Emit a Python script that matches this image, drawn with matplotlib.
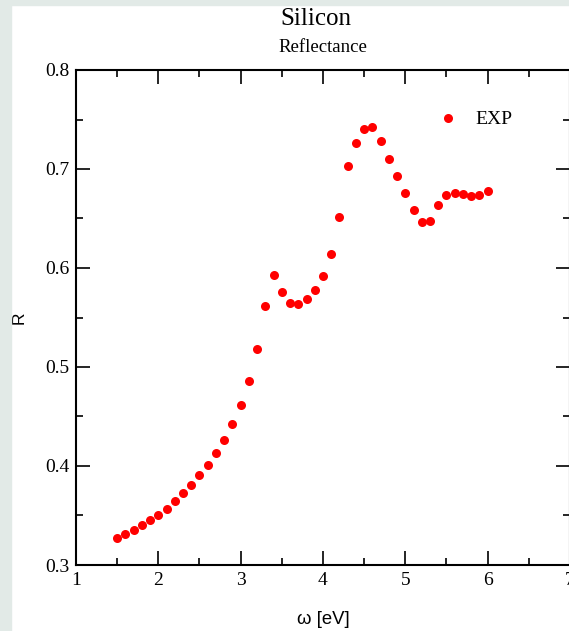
import matplotlib.pyplot as plt
from matplotlib.patches import Rectangle
from matplotlib.ticker import MultipleLocator

# measured reflectance of silicon
energy = [1.5, 1.6, 1.7, 1.8, 1.9, 2.0, 2.1, 2.2, 2.3, 2.4,
          2.5, 2.6, 2.7, 2.8, 2.9, 3.0, 3.1, 3.2, 3.3, 3.4,
          3.5, 3.6, 3.7, 3.8, 3.9, 4.0, 4.1, 4.2, 4.3, 4.4,
          4.5, 4.6, 4.7, 4.8, 4.9, 5.0, 5.1, 5.2, 5.3, 5.4,
          5.5, 5.6, 5.7, 5.8, 5.9, 6.0]
refl = [0.327, 0.331, 0.335, 0.340, 0.345, 0.351, 0.357, 0.365, 0.373, 0.381,
        0.391, 0.401, 0.413, 0.426, 0.442, 0.462, 0.486, 0.518, 0.562, 0.593,
        0.576, 0.565, 0.564, 0.569, 0.578, 0.592, 0.614, 0.652, 0.703, 0.726,
        0.740, 0.742, 0.728, 0.710, 0.693, 0.676, 0.659, 0.646, 0.647, 0.664,
        0.674, 0.676, 0.675, 0.673, 0.674, 0.678]

W, H = 569, 631
fig = plt.figure(figsize=(W / 100, H / 100), dpi=100, facecolor='white')

# pale frame strips along the left and top edges
band = '#e2eae7'
fig.patches.append(Rectangle((0, 0), 11 / W, 1, transform=fig.transFigure, color=band, zorder=0))
fig.patches.append(Rectangle((0, 1 - 5 / H), 1, 5 / H, transform=fig.transFigure, color=band, zorder=0))

ax = fig.add_axes([76 / W, 1 - 565 / H, 494 / W, 495 / H])
ax.plot(energy, refl, 'o', color='red', markersize=6.5, markeredgewidth=0, label='EXP')

ax.set_xlim(1, 7)
ax.set_ylim(0.3, 0.8)
ax.xaxis.set_major_locator(MultipleLocator(1))
ax.xaxis.set_minor_locator(MultipleLocator(0.5))
ax.yaxis.set_major_locator(MultipleLocator(0.1))
ax.yaxis.set_minor_locator(MultipleLocator(0.05))
ax.tick_params(which='both', direction='in', top=True, right=True, width=1.2, colors='black')
ax.tick_params(which='major', length=10, pad=5)
ax.tick_params(which='minor', length=5)
for lab in ax.get_xticklabels() + ax.get_yticklabels():
    lab.set_family('Liberation Serif')
    lab.set_fontsize(14)
for s in ax.spines.values():
    s.set_linewidth(1.5)

ax.set_xlabel('ω [eV]', family='Liberation Sans', fontsize=13.3)
ax.set_ylabel('R', family='Liberation Sans', fontsize=12.5)
ax.xaxis.set_label_coords(0.5, -(619 - 565) / 495)
ax.yaxis.set_label_coords(-(76 - 19) / 494, 0.5)
ax.xaxis.label.set_va('center')
ax.yaxis.label.set_va('center')

fig.text(316 / W, 1 - 19 / H, 'Silicon', ha='center', va='center',
         family='Liberation Serif', fontsize=18)
fig.text(323 / W, 1 - 48 / H, 'Reflectance', ha='center', va='center',
         family='Liberation Serif', fontsize=13.5)

leg = ax.legend(loc='upper right', bbox_to_anchor=(0.918, 0.953), frameon=False,
                prop={'family': 'Liberation Serif', 'size': 14},
                handletextpad=0.4, markerscale=1.0)

fig.savefig('out.png', dpi=100)
